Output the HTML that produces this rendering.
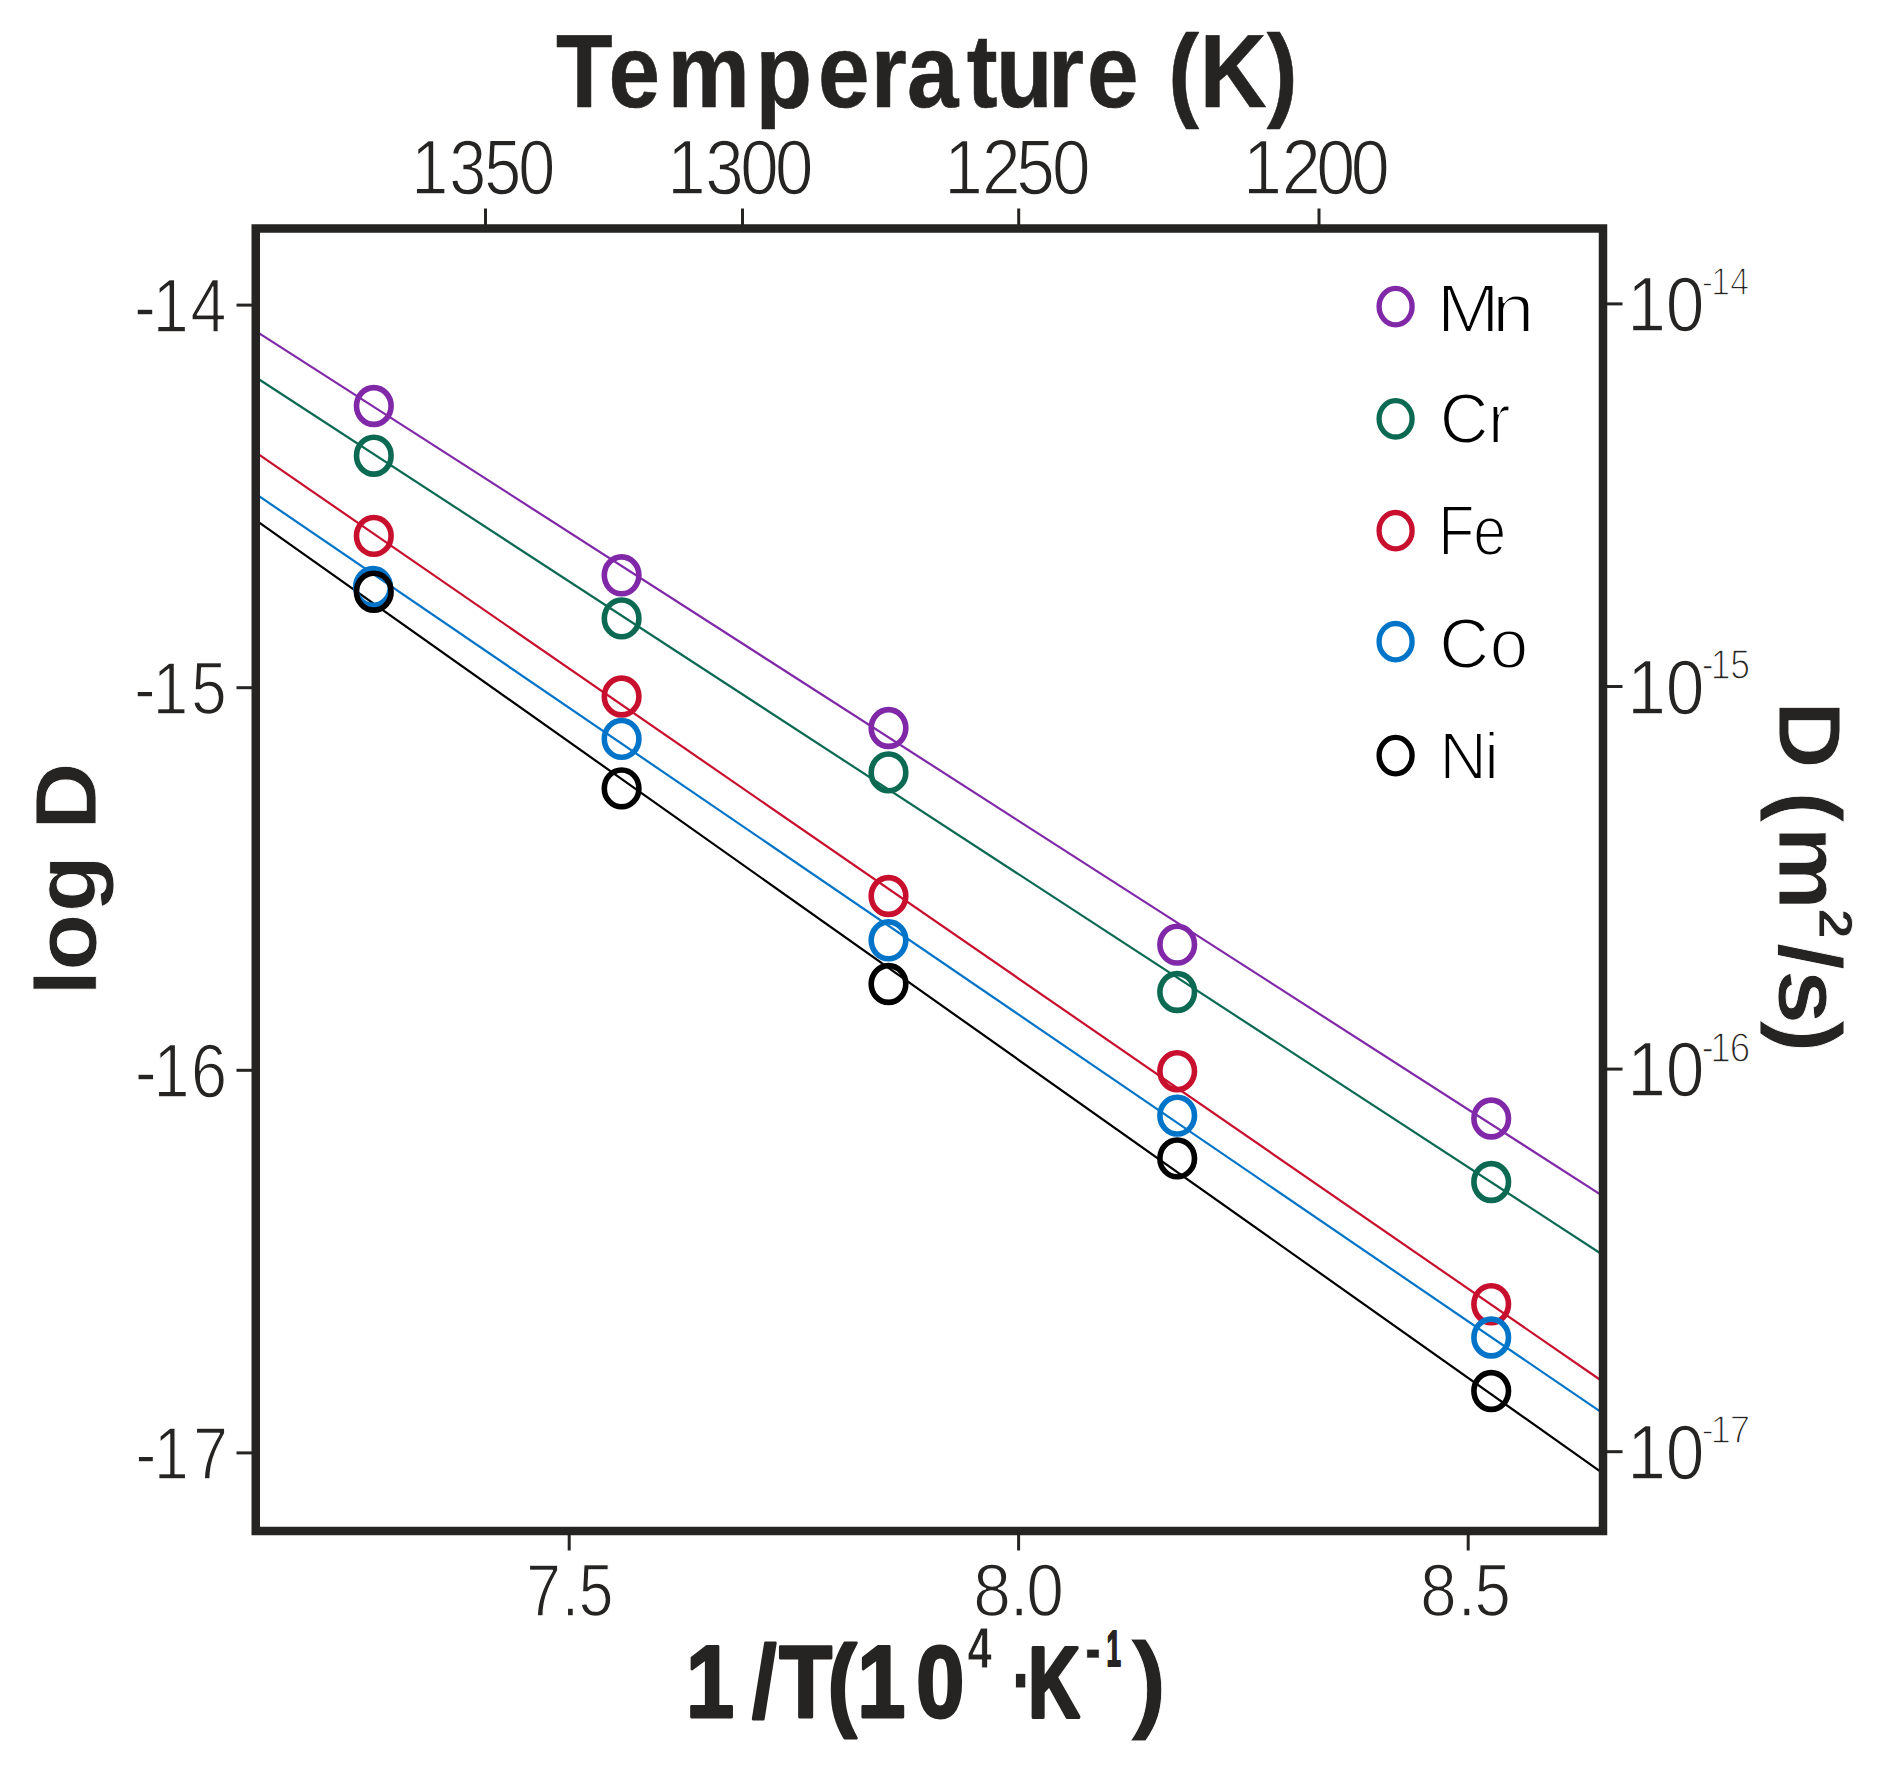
<!DOCTYPE html>
<html lang="en">
<head>
<meta charset="utf-8">
<title>Diffusion coefficient vs. temperature</title>
<style>
html,body{margin:0;padding:0;background:#ffffff;width:1888px;height:1768px;overflow:hidden}
</style>
</head>
<body>
<svg width="1888" height="1768" viewBox="0 0 1888 1768" style="display:block;font-family:'Liberation Sans', sans-serif">
<rect width="1888" height="1768" fill="#ffffff"/>
<line x1="255.75" y1="331.07" x2="1603.0" y2="1196.07" stroke="#8028a8" stroke-width="2.2"/>
<line x1="255.75" y1="377.23" x2="1603.0" y2="1255.01" stroke="#0c6a52" stroke-width="2.2"/>
<line x1="255.75" y1="452.37" x2="1603.0" y2="1381.76" stroke="#c8102e" stroke-width="2.2"/>
<line x1="255.75" y1="493.90" x2="1603.0" y2="1413.43" stroke="#0074c8" stroke-width="2.2"/>
<line x1="255.75" y1="520.19" x2="1603.0" y2="1473.33" stroke="#000000" stroke-width="2.2"/>
<ellipse cx="373.8" cy="406.0" rx="17.3" ry="18.4" fill="none" stroke="#8028a8" stroke-width="5.6"/>
<ellipse cx="621.6" cy="575.3" rx="17.3" ry="18.4" fill="none" stroke="#8028a8" stroke-width="5.6"/>
<ellipse cx="888.5" cy="728.0" rx="17.3" ry="18.4" fill="none" stroke="#8028a8" stroke-width="5.6"/>
<ellipse cx="1177.2" cy="944.6" rx="17.3" ry="18.4" fill="none" stroke="#8028a8" stroke-width="5.6"/>
<ellipse cx="1491.2" cy="1118.5" rx="17.3" ry="18.4" fill="none" stroke="#8028a8" stroke-width="5.6"/>
<ellipse cx="373.8" cy="455.7" rx="17.3" ry="18.4" fill="none" stroke="#0c6a52" stroke-width="5.6"/>
<ellipse cx="621.6" cy="618.4" rx="17.3" ry="18.4" fill="none" stroke="#0c6a52" stroke-width="5.6"/>
<ellipse cx="888.5" cy="772.4" rx="17.3" ry="18.4" fill="none" stroke="#0c6a52" stroke-width="5.6"/>
<ellipse cx="1177.2" cy="992.0" rx="17.3" ry="18.4" fill="none" stroke="#0c6a52" stroke-width="5.6"/>
<ellipse cx="1491.2" cy="1182.0" rx="17.3" ry="18.4" fill="none" stroke="#0c6a52" stroke-width="5.6"/>
<ellipse cx="373.8" cy="535.9" rx="17.3" ry="18.4" fill="none" stroke="#c8102e" stroke-width="5.6"/>
<ellipse cx="621.6" cy="696.5" rx="17.3" ry="18.4" fill="none" stroke="#c8102e" stroke-width="5.6"/>
<ellipse cx="888.5" cy="896.0" rx="17.3" ry="18.4" fill="none" stroke="#c8102e" stroke-width="5.6"/>
<ellipse cx="1177.2" cy="1071.2" rx="17.3" ry="18.4" fill="none" stroke="#c8102e" stroke-width="5.6"/>
<ellipse cx="1491.2" cy="1304.2" rx="17.3" ry="18.4" fill="none" stroke="#c8102e" stroke-width="5.6"/>
<ellipse cx="373.0" cy="587.0" rx="17.3" ry="18.4" fill="none" stroke="#0074c8" stroke-width="5.6"/>
<ellipse cx="621.6" cy="738.9" rx="17.3" ry="18.4" fill="none" stroke="#0074c8" stroke-width="5.6"/>
<ellipse cx="888.5" cy="940.3" rx="17.3" ry="18.4" fill="none" stroke="#0074c8" stroke-width="5.6"/>
<ellipse cx="1177.2" cy="1115.6" rx="17.3" ry="18.4" fill="none" stroke="#0074c8" stroke-width="5.6"/>
<ellipse cx="1491.2" cy="1337.5" rx="17.3" ry="18.4" fill="none" stroke="#0074c8" stroke-width="5.6"/>
<ellipse cx="373.8" cy="591.7" rx="17.3" ry="18.4" fill="none" stroke="#000000" stroke-width="5.6"/>
<ellipse cx="621.6" cy="788.4" rx="17.3" ry="18.4" fill="none" stroke="#000000" stroke-width="5.6"/>
<ellipse cx="888.5" cy="984.0" rx="17.3" ry="18.4" fill="none" stroke="#000000" stroke-width="5.6"/>
<ellipse cx="1177.2" cy="1158.4" rx="17.3" ry="18.4" fill="none" stroke="#000000" stroke-width="5.6"/>
<ellipse cx="1491.2" cy="1391.0" rx="17.3" ry="18.4" fill="none" stroke="#000000" stroke-width="5.6"/>
<rect x="255.75" y="228.5" width="1347.25" height="1302.5" fill="none" stroke="#262422" stroke-width="8.5"/>
<line x1="236.5" y1="305.1" x2="255.75" y2="305.1" stroke="#262422" stroke-width="3.0"/>
<line x1="236.5" y1="687.7" x2="255.75" y2="687.7" stroke="#262422" stroke-width="3.0"/>
<line x1="236.5" y1="1070.3" x2="255.75" y2="1070.3" stroke="#262422" stroke-width="3.0"/>
<line x1="236.5" y1="1452.9" x2="255.75" y2="1452.9" stroke="#262422" stroke-width="3.0"/>
<line x1="1603.0" y1="303.90" x2="1622.5" y2="303.90" stroke="#262422" stroke-width="3.0"/>
<line x1="1603.0" y1="686.50" x2="1622.5" y2="686.50" stroke="#262422" stroke-width="3.0"/>
<line x1="1603.0" y1="1069.10" x2="1622.5" y2="1069.10" stroke="#262422" stroke-width="3.0"/>
<line x1="1603.0" y1="1451.70" x2="1622.5" y2="1451.70" stroke="#262422" stroke-width="3.0"/>
<line x1="485.5" y1="208.5" x2="485.5" y2="228.5" stroke="#262422" stroke-width="3.0"/>
<line x1="742.5" y1="208.5" x2="742.5" y2="228.5" stroke="#262422" stroke-width="3.0"/>
<line x1="1018.7" y1="208.5" x2="1018.7" y2="228.5" stroke="#262422" stroke-width="3.0"/>
<line x1="1319.0" y1="208.5" x2="1319.0" y2="228.5" stroke="#262422" stroke-width="3.0"/>
<line x1="569.2" y1="1531.0" x2="569.2" y2="1550.5" stroke="#262422" stroke-width="3.0"/>
<line x1="1018.6" y1="1531.0" x2="1018.6" y2="1550.5" stroke="#262422" stroke-width="3.0"/>
<line x1="1468.2" y1="1531.0" x2="1468.2" y2="1550.5" stroke="#262422" stroke-width="3.0"/>
<ellipse cx="1395.6" cy="306.6" rx="16.5" ry="18.2" fill="none" stroke="#8028a8" stroke-width="5.3"/>
<ellipse cx="1395.6" cy="418.8" rx="16.5" ry="18.2" fill="none" stroke="#0c6a52" stroke-width="5.3"/>
<ellipse cx="1395.6" cy="530.7" rx="16.5" ry="18.2" fill="none" stroke="#c8102e" stroke-width="5.3"/>
<ellipse cx="1395.6" cy="641.7" rx="16.5" ry="18.2" fill="none" stroke="#0074c8" stroke-width="5.3"/>
<ellipse cx="1395.6" cy="755.6" rx="16.5" ry="18.2" fill="none" stroke="#000000" stroke-width="5.3"/>
<text x="620.03 678.73 744.62 842.67 912.22 971.23 1011.69 1078.19 1110.73 1168.93 1212.31 1269.73 1303.09 1338.09 1412.75" y="0" font-weight="bold" font-size="103.25" fill="#262422" stroke="#262422" stroke-width="0.600" stroke-linejoin="round" transform="translate(0,106.61) scale(0.8966,1.0041)">Temperature (K)</text>
<text x="470.93 514.45 554.61 593.41" y="0" font-size="76.24" fill="#262422" stroke="#fff" stroke-width="1.400" stroke-linejoin="round" transform="translate(0,193.60) scale(0.8733,1.0096)">1350</text>
<text x="736.42 778.47 817.09 855.39" y="0" font-size="76.24" fill="#262422" stroke="#fff" stroke-width="1.400" stroke-linejoin="round" transform="translate(0,193.60) scale(0.9061,1.0096)">1300</text>
<text x="1018.11 1058.75 1095.70 1134.34" y="0" font-size="74.83" fill="#262422" stroke="#fff" stroke-width="1.400" stroke-linejoin="round" transform="translate(0,193.60) scale(0.9274,1.0294)">1250</text>
<text x="1327.19 1368.52 1405.25 1442.30" y="0" font-size="74.83" fill="#262422" stroke="#fff" stroke-width="1.400" stroke-linejoin="round" transform="translate(0,193.60) scale(0.9366,1.0294)">1200</text>
<text x="157.51 179.13 223.63" y="0" font-size="75.65" fill="#262422" stroke="#fff" stroke-width="1.400" stroke-linejoin="round" transform="translate(0,331.50) scale(0.8524,0.9961)">-14</text>
<text x="157.15 178.71 223.76" y="0" font-size="74.55" fill="#262422" stroke="#fff" stroke-width="1.400" stroke-linejoin="round" transform="translate(0,714.30) scale(0.8543,0.9980)">-15</text>
<text x="157.07 178.56 222.25" y="0" font-size="75.37" fill="#262422" stroke="#fff" stroke-width="1.400" stroke-linejoin="round" transform="translate(0,1096.80) scale(0.8599,1.0019)">-16</text>
<text x="159.41 181.30 227.33" y="0" font-size="73.22" fill="#262422" stroke="#fff" stroke-width="1.400" stroke-linejoin="round" transform="translate(0,1478.91) scale(0.8499,1.0122)">-17</text>
<text x="1824.96 1868.20" y="0" font-size="78.00" fill="#262422" stroke="#fff" stroke-width="1.400" stroke-linejoin="round" transform="translate(0,330.90) scale(0.8917,0.9962)">10</text>
<text x="2034.99 2046.21 2069.06" y="0" font-size="40.27" fill="#262422" stroke="#fff" stroke-width="1.400" stroke-linejoin="round" transform="translate(0,294.88) scale(0.8363,0.9808)">-14</text>
<text x="1824.96 1868.20" y="0" font-size="78.00" fill="#262422" stroke="#fff" stroke-width="1.400" stroke-linejoin="round" transform="translate(0,713.50) scale(0.8917,0.9962)">10</text>
<text x="2062.00 2072.85 2096.62" y="0" font-size="43.08" fill="#262422" stroke="#fff" stroke-width="1.400" stroke-linejoin="round" transform="translate(0,679.00) scale(0.8253,1.0000)">-15</text>
<text x="1824.96 1868.20" y="0" font-size="78.00" fill="#262422" stroke="#fff" stroke-width="1.400" stroke-linejoin="round" transform="translate(0,1096.10) scale(0.8917,0.9962)">10</text>
<text x="1989.80 2000.19 2022.80" y="0" font-size="43.08" fill="#262422" stroke="#fff" stroke-width="1.400" stroke-linejoin="round" transform="translate(0,1061.60) scale(0.8551,1.0000)">-16</text>
<text x="1824.96 1868.20" y="0" font-size="78.00" fill="#262422" stroke="#fff" stroke-width="1.400" stroke-linejoin="round" transform="translate(0,1478.70) scale(0.8917,0.9962)">10</text>
<text x="1867.93 1877.71 1898.93" y="0" font-size="40.27" fill="#262422" stroke="#fff" stroke-width="1.400" stroke-linejoin="round" transform="translate(0,1442.68) scale(0.9109,0.9808)">-17</text>
<text x="624.75 667.02 687.25" y="0" font-size="73.97" fill="#262422" stroke="#fff" stroke-width="1.400" stroke-linejoin="round" transform="translate(0,1616.20) scale(0.8422,0.9961)">7.5</text>
<text x="1060.40 1100.09 1118.26" y="0" font-size="73.81" fill="#262422" stroke="#fff" stroke-width="1.400" stroke-linejoin="round" transform="translate(0,1616.20) scale(0.9178,0.9961)">8.0</text>
<text x="1603.25 1645.63 1664.28" y="0" font-size="73.81" fill="#262422" stroke="#fff" stroke-width="1.400" stroke-linejoin="round" transform="translate(0,1616.20) scale(0.8859,0.9961)">8.5</text>
<text x="805.29 883.01 914.80 971.77 1006.39 1075.70" y="0" font-weight="bold" font-size="101.51" fill="#262422" stroke="#262422" stroke-width="3.000" stroke-linejoin="round" transform="translate(0,1716.77) scale(0.8518,0.9970)">1/T(10</text>
<text x="0" y="0" font-weight="bold" font-size="57.28" fill="#262422" stroke="#fff" stroke-width="0.800" stroke-linejoin="round" transform="translate(967.54,1668.29) scale(0.7600,0.9947)">4</text>
<text x="0" y="0" font-weight="bold" font-size="73.00" fill="#262422" stroke="#fff" stroke-width="0.800" stroke-linejoin="round" transform="translate(1010.60,1713.81) scale(1.0000,1.3556)">·</text>
<text x="0" y="0" font-weight="bold" font-size="103.00" fill="#262422" stroke="#262422" stroke-width="4.000" stroke-linejoin="round" transform="translate(1028.24,1717.04) scale(0.6914,0.9803)">K</text>
<text x="0" y="0" font-weight="bold" font-size="83.00" fill="#262422" stroke="#fff" stroke-width="0.800" stroke-linejoin="round" transform="translate(1085.08,1672.90) scale(0.5800,0.9000)">-</text>
<text x="0" y="0" font-weight="bold" font-size="51.14" fill="#262422" stroke="#262422" stroke-width="2.000" stroke-linejoin="round" transform="translate(1106.38,1666.32) scale(0.5115,0.9816)">1</text>
<text x="0" y="0" font-weight="bold" font-size="107.98" fill="#262422" stroke="#fff" stroke-width="0.800" stroke-linejoin="round" transform="translate(1130.34,1718.49) scale(1.0321,1.0051)">)</text>
<text x="-929.53 -906.11 -851.45 -798.16 -774.65" y="0" font-weight="bold" font-size="87.24" fill="#262422" stroke="#fff" stroke-width="0.800" stroke-linejoin="round" transform="translate(96.00,0) rotate(-90) scale(1.0713,1.0000)">log D</text>
<text x="652.72 715.77 736.81 769.56" y="0" font-weight="bold" font-size="87.31" fill="#262422" stroke="#fff" stroke-width="0.800" stroke-linejoin="round" transform="translate(1779.34,0) rotate(90) scale(1.0741,1.0203)">D (m</text>
<text x="0" y="0" font-weight="bold" font-size="48.26" fill="#262422" stroke="#fff" stroke-width="0.800" stroke-linejoin="round" transform="translate(1818.52,908.77) rotate(90) scale(1.1136,0.9844)">2</text>
<text x="840.10 864.16 908.88" y="0" font-weight="bold" font-size="87.31" fill="#262422" stroke="#fff" stroke-width="0.800" stroke-linejoin="round" transform="translate(1779.34,0) rotate(90) scale(1.1222,1.0203)">/s)</text>
<text x="1341.05 1392.96" y="0" font-size="70.57" fill="#000" stroke="#fff" stroke-width="2.000" stroke-linejoin="round" transform="translate(0,331.78) scale(1.0713,0.9787)">Mn</text>
<text x="1503.48 1553.77" y="0" font-size="70.61" fill="#000" stroke="#fff" stroke-width="2.000" stroke-linejoin="round" transform="translate(0,443.19) scale(0.9576,0.9851)">Cr</text>
<text x="1666.25 1706.83" y="0" font-size="68.75" fill="#000" stroke="#fff" stroke-width="2.000" stroke-linejoin="round" transform="translate(0,555.23) scale(0.8632,1.0267)">Fe</text>
<text x="1512.33 1565.42" y="0" font-size="72.54" fill="#000" stroke="#fff" stroke-width="2.000" stroke-linejoin="round" transform="translate(0,668.36) scale(0.9516,0.9612)">Co</text>
<text x="1455.38 1500.95" y="0" font-size="66.88" fill="#000" stroke="#fff" stroke-width="2.000" stroke-linejoin="round" transform="translate(0,778.80) scale(0.9889,1.0043)">Ni</text>
</svg>
</body>
</html>
